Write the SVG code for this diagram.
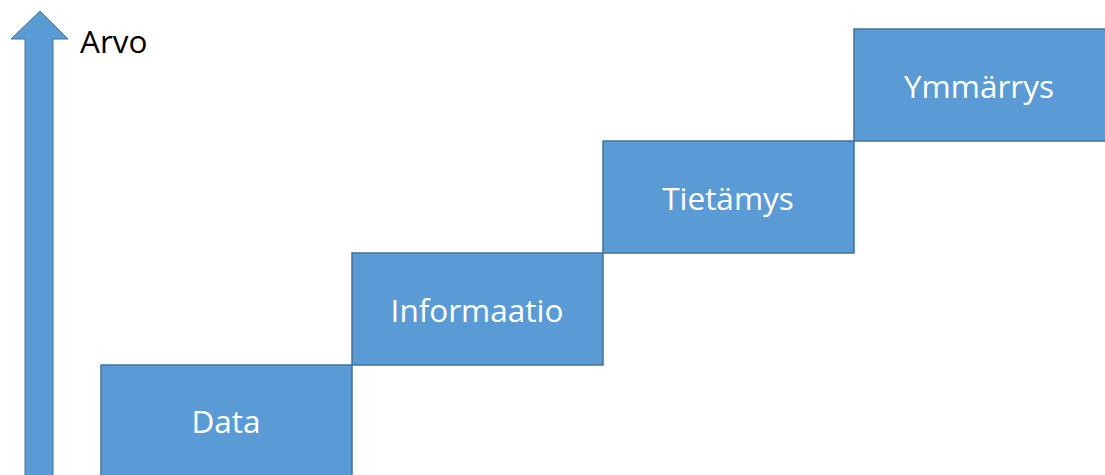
<svg xmlns="http://www.w3.org/2000/svg" width="1105" height="475" viewBox="0 0 1105 475">
<style>
.box{fill:#5B9BD5;stroke:#41719C;stroke-width:1.5}
.lbl{fill:#FFFFFF;font-family:"Open Sans","Liberation Sans",sans-serif;font-size:31.5px;text-anchor:middle;dominant-baseline:central}
</style>
<rect width="1105" height="475" fill="#FFFFFF"/>
<g id="axis">
<polygon points="40,11 68,39 53,39 53,476 25,476 25,39 11,39" fill="#5B9BD5" stroke="#41719C" stroke-width="1"/>
<text x="80" y="53" font-family="Open Sans, Liberation Sans, sans-serif" font-size="31.5" fill="#000000">Arvo</text>
</g>
<g id="data"><rect class="box" x="101" y="365" width="251" height="112"/><text class="lbl" x="226" y="420">Data</text></g>
<g id="informaatio"><rect class="box" x="352" y="253" width="251" height="112"/><text class="lbl" x="477" y="309">Informaatio</text></g>
<g id="tietamys"><rect class="box" x="603" y="141" width="251" height="112"/><text class="lbl" x="728" y="197">Tietämys</text></g>
<g id="ymmarrys"><rect class="box" x="854" y="29" width="252" height="112"/><text class="lbl" x="979" y="85">Ymmärrys</text></g>
<g id="connectors"/>
</svg>
